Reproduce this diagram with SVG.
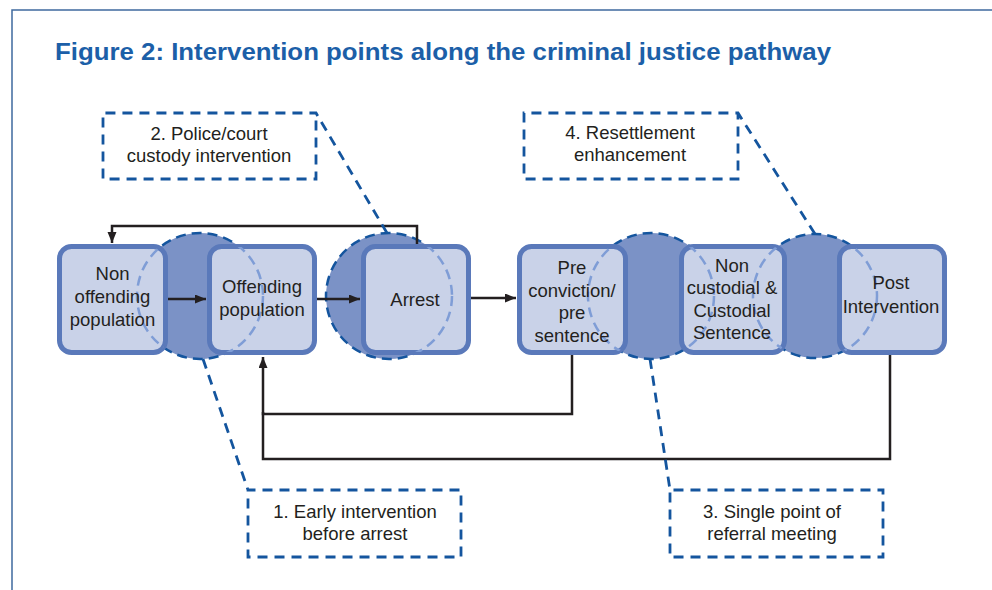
<svg xmlns="http://www.w3.org/2000/svg" width="992" height="590" viewBox="0 0 992 590">
<style>
.frame{fill:none;stroke:#3f6a9e;stroke-width:1.5}
.title{font-family:"Liberation Sans",Arial,sans-serif;font-weight:bold;font-size:24px;fill:#1c5fa8}
.circ{fill:#7b92c6;stroke:#14559e;stroke-width:2.5;stroke-dasharray:10 6}
.circl{fill:none;stroke:#7f9dd6;stroke-width:2.5;stroke-dasharray:10 6}
.box{fill:#c9d2e8;stroke:#5a79ba;stroke-width:5}
.lbl{font-family:"Liberation Sans",Arial,sans-serif;font-size:18.5px;fill:#231f20;text-anchor:middle}
.conn{fill:none;stroke:#231f20;stroke-width:2.5}
.call{fill:none;stroke:#14559e;stroke-width:2.8;stroke-dasharray:10 7}
</style>
<defs>
<marker id="ah" markerUnits="userSpaceOnUse" markerWidth="12" markerHeight="10" refX="11" refY="4.5" orient="auto">
<path d="M0,0 L11,4.5 L0,9 z" fill="#231f20"/>
</marker>
<clipPath id="inner">
<rect x="60" y="247" width="105" height="105" rx="10"/>
<rect x="210" y="247" width="104" height="105" rx="10"/>
<rect x="364" y="247" width="104" height="105" rx="10"/>
<rect x="520" y="247" width="105" height="105" rx="10"/>
<rect x="682" y="247" width="102" height="105" rx="10"/>
<rect x="840" y="247" width="104" height="105" rx="10"/>
</clipPath>
</defs>
<rect width="992" height="590" fill="#ffffff"/>
<path class="frame" d="M12 590 V10 H992"/>
<text class="title" x="55" y="60" textLength="776" lengthAdjust="spacingAndGlyphs">Figure 2: Intervention points along the criminal justice pathway</text>

<g id="circles">
<circle class="circ" cx="200" cy="296" r="63"/>
<circle class="circ" cx="389" cy="296" r="63"/>
<circle class="circ" cx="651" cy="296" r="63"/>
<circle class="circ" cx="815" cy="296" r="62"/>
</g>

<g id="node-non-offending"><rect class="box" x="59.5" y="246.5" width="106" height="106" rx="12"/></g>
<g id="node-offending"><rect class="box" x="209.5" y="246.5" width="105" height="106" rx="12"/></g>
<g id="node-arrest"><rect class="box" x="363.5" y="246.5" width="105" height="106" rx="12"/></g>
<g id="node-pre"><rect class="box" x="519.5" y="246.5" width="106" height="106" rx="12"/></g>
<g id="node-sentence"><rect class="box" x="681.5" y="246.5" width="103" height="106" rx="12"/></g>
<g id="node-post"><rect class="box" x="839.5" y="246.5" width="105" height="106" rx="12"/></g>

<g id="circle-lines" clip-path="url(#inner)">
<circle class="circl" cx="200" cy="296" r="63"/>
<circle class="circl" cx="389" cy="296" r="63"/>
<circle class="circl" cx="651" cy="296" r="63"/>
<circle class="circl" cx="815" cy="296" r="62"/>
</g>

<g id="labels">
<text class="lbl" x="112.5"><tspan x="112.5" y="280">Non</tspan><tspan x="112.5" y="303">offending</tspan><tspan x="112.5" y="326">population</tspan></text>
<text class="lbl" x="262"><tspan x="262" y="293">Offending</tspan><tspan x="262" y="316">population</tspan></text>
<text class="lbl" x="415" y="306">Arrest</text>
<text class="lbl" x="572"><tspan x="572" y="274">Pre</tspan><tspan x="572" y="297">conviction/</tspan><tspan x="572" y="319">pre</tspan><tspan x="572" y="342">sentence</tspan></text>
<text class="lbl" x="732"><tspan x="732" y="272">Non</tspan><tspan x="732" y="294">custodial &amp;</tspan><tspan x="732" y="317">Custodial</tspan><tspan x="732" y="339">Sentence</tspan></text>
<text class="lbl" x="891"><tspan x="891" y="289">Post</tspan><tspan x="891" y="313">Intervention</tspan></text>
</g>

<g id="connectors">
<path class="conn" d="M168 299 H206" marker-end="url(#ah)"/>
<path class="conn" d="M317 299 H360" marker-end="url(#ah)"/>
<path class="conn" d="M471 298 H516" marker-end="url(#ah)"/>
<path class="conn" d="M417 244 V226 H112 V243" marker-end="url(#ah)"/>
<path class="conn" d="M572 355 V414 H263 V357" marker-end="url(#ah)"/>
<path class="conn" d="M890 355 V459 H263 V412"/>
</g>

<g id="callout-1">
<path class="call" d="M203 359 L248 490 L461 490 L461 557 L248 557 L248 490"/>
<text class="lbl"><tspan x="355" y="518">1. Early intervention</tspan><tspan x="355" y="540">before arrest</tspan></text>
</g>
<g id="callout-2">
<path class="call" d="M387 233 L316 113 L103 113 L103 179 L316 179 L316 113"/>
<text class="lbl"><tspan x="209" y="140">2. Police/court</tspan><tspan x="209" y="162">custody intervention</tspan></text>
</g>
<g id="callout-3">
<path class="call" d="M650 359 L670 490 L883 490 L883 557 L670 557 L670 490"/>
<text class="lbl"><tspan x="772" y="518">3. Single point of</tspan><tspan x="772" y="540">referral meeting</tspan></text>
</g>
<g id="callout-4">
<path class="call" d="M815 234 L738 113 L524 113 L524 179 L738 179 L738 113"/>
<text class="lbl"><tspan x="630" y="139">4. Resettlement</tspan><tspan x="630" y="161">enhancement</tspan></text>
</g>
</svg>
